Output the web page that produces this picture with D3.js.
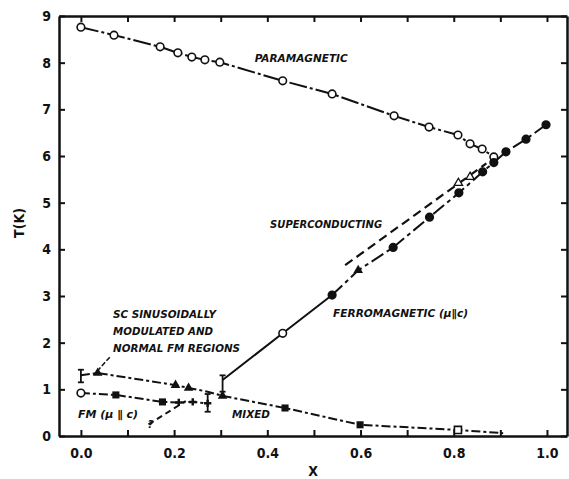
<!DOCTYPE html>
<html>
<head>
<meta charset="utf-8">
<script src="https://cdn.jsdelivr.net/npm/d3@7"></script>
<style>
  body { margin: 0; background: #fff; }
  text { font-family: "DejaVu Sans Condensed", "DejaVu Sans", sans-serif; font-weight: bold; fill: #111; }
  .lbl { font-style: italic; font-size: 10.5px; }
</style>
</head>
<body>
<div id="chart"></div>
<script>
// tick labels
var xTicks = [0, 0.1, 0.2, 0.3, 0.4, 0.5, 0.6, 0.7, 0.8, 0.9, 1.0];
var xTickLabels = ["0.0", "", "0.2", "", "0.4", "", "0.6", "", "0.8", "", "1.0"];
var yTicks = [0, 1, 2, 3, 4, 5, 6, 7, 8, 9];

// paramagnetic boundary (open circles)
var paraX = [0.0, 0.071, 0.17, 0.208, 0.238, 0.266, 0.298, 0.433, 0.539, 0.672, 0.747, 0.809, 0.835, 0.861, 0.886];
var paraT = [8.76, 8.59, 8.34, 8.21, 8.12, 8.06, 8.01, 7.61, 7.33, 6.86, 6.62, 6.45, 6.26, 6.15, 5.98];

// ferromagnetic boundary
var ferroX = [0.304, 0.433, 0.539, 0.595, 0.67, 0.748, 0.811, 0.862, 0.886, 0.912, 0.955, 0.998];
var ferroT = [1.2, 2.2, 3.02, 3.55, 4.04, 4.69, 5.21, 5.66, 5.86, 6.09, 6.36, 6.67];
var ferroSym = ["none", "open", "filled", "tri", "filled", "filled", "filled", "filled", "filled", "filled", "filled", "filled"];

// superconducting boundary (dashed)
var scX = [0.567, 0.87];
var scT = [3.66, 5.84];
var scTriX = [0.81, 0.835];
var scTriT = [5.42, 5.55];

// low temperature: SC onset (dash-dot, triangles / squares)
var lowUpX = [0.0, 0.036, 0.203, 0.231, 0.272, 0.304, 0.438, 0.599, 0.809, 0.906];
var lowUpT = [1.3, 1.35, 1.09, 1.03, 0.95, 0.86, 0.6, 0.24, 0.13, 0.06];
var lowUpSym = ["none", "tri", "tri", "tri", "none", "tri", "square", "square", "opensq", "none"];

// low temperature: FM (mu || c)
var fmX = [0.0, 0.075, 0.175, 0.21, 0.24, 0.272];
var fmT = [0.92, 0.88, 0.73, 0.72, 0.73, 0.7];
var fmSym = ["open", "square", "square", "cross", "cross", "cross"];

// error bars
var errX = [0.0, 0.272, 0.304];
var errLo = [1.15, 0.52, 0.95];
var errHi = [1.42, 0.9, 1.3];

// dashed "?" line and leader line
var qX = [0.145, 0.225];
var qT = [0.25, 0.75];
var leadX = [0.062, 0.028];
var leadT = [1.69, 1.31];

var labels = [
  {t: "PARAMAGNETIC", x: 0.373, y: 8.01, w: 93},
  {t: "SUPERCONDUCTING", x: 0.406, y: 4.46, w: 112},
  {t: "FERROMAGNETIC (\u03bc\u2225c)", x: 0.541, y: 2.55, w: 135},
  {t: "SC SINUSOIDALLY", x: 0.069, y: 2.53, w: 103},
  {t: "MODULATED AND", x: 0.069, y: 2.17, w: 100},
  {t: "NORMAL FM REGIONS", x: 0.069, y: 1.8, w: 127},
  {t: "FM (\u03bc \u2225 c)", x: -0.006, y: 0.39, w: 60},
  {t: "MIXED", x: 0.324, y: 0.39, w: 38},
  {t: "?", x: 0.143, y: 0.17, w: 6}
];

var W = 569, H = 479;
var svg = d3.select("#chart").append("svg")
  .attr("width", W).attr("height", H);

var x = d3.scaleLinear().domain([-0.047, 1.043]).range([59, 567]);
var y = d3.scaleLinear().domain([0, 9]).range([436, 16]);

// frame + inward ticks
var frame = svg.append("g");
frame.append("g").attr("transform", "translate(0,436)")
  .call(d3.axisBottom(x).tickValues(xTicks).tickSize(-6).tickSizeOuter(0).tickPadding(12)
    .tickFormat(function(d, i) { return xTickLabels[i]; }));
frame.append("g").attr("transform", "translate(0,16)")
  .call(d3.axisTop(x).tickValues(xTicks).tickSize(-6).tickSizeOuter(0).tickFormat(""));
frame.append("g").attr("transform", "translate(59,0)")
  .call(d3.axisLeft(y).tickValues(yTicks).tickSize(-6).tickSizeOuter(0).tickPadding(8)
    .tickFormat(d3.format("d")));
frame.append("g").attr("transform", "translate(567,0)")
  .call(d3.axisRight(y).tickValues(yTicks).tickSize(-6).tickSizeOuter(0).tickFormat(""));
frame.selectAll(".domain").attr("stroke", "#111").attr("stroke-width", 2.5);
frame.selectAll(".tick line").attr("stroke", "#111").attr("stroke-width", 2);
frame.selectAll(".tick text").style("font-size", "14px").style("font-weight", "bold");

var line = d3.line().x(function(d) { return x(d[0]); }).y(function(d) { return y(d[1]); });
function pairs(a, b) { return a.map(function(v, i) { return [v, b[i]]; }); }

function drawLine(xs, ts, dash, sw) {
  svg.append("path")
    .attr("d", line(pairs(xs, ts)))
    .attr("fill", "none")
    .attr("stroke", "#111")
    .attr("stroke-width", sw || 2)
    .attr("stroke-dasharray", dash);
}

drawLine(paraX, paraT, "18,3,3,3");
drawLine(ferroX.slice(0, 3), ferroT.slice(0, 3), null);
drawLine(ferroX.slice(2), ferroT.slice(2), "14,4,4,4");
drawLine(scX, scT, "9,5", 2.2);
drawLine(lowUpX, lowUpT, "9,3,3,3");
drawLine(fmX, fmT, "9,3,3,3");
drawLine(qX, qT, "6,4");
drawLine(leadX, leadT, "5,2", 1.5);

// error bars
errX.forEach(function(v, i) {
  var g = svg.append("g").attr("stroke", "#111").attr("stroke-width", 1.8);
  g.append("line").attr("x1", x(v)).attr("x2", x(v)).attr("y1", y(errLo[i])).attr("y2", y(errHi[i]));
  [errLo[i], errHi[i]].forEach(function(t) {
    g.append("line").attr("x1", x(v) - 3).attr("x2", x(v) + 3).attr("y1", y(t)).attr("y2", y(t));
  });
});

// markers
function drawMarks(xs, ts, syms) {
  xs.forEach(function(v, i) {
    var s = syms ? syms[i] : "open";
    if (s === "none") return;
    var px = x(v), py = y(ts[i]);
    if (s === "open" || s === "filled") {
      svg.append("circle").attr("cx", px).attr("cy", py).attr("r", 3.8)
        .attr("fill", s === "filled" ? "#111" : "#fff").attr("stroke", "#111").attr("stroke-width", 1.6);
    } else if (s === "tri") {
      svg.append("path").attr("transform", "translate(" + px + "," + py + ")")
        .attr("d", d3.symbol(d3.symbolTriangle, 40)()).attr("fill", "#111");
    } else if (s === "opentri") {
      svg.append("path").attr("transform", "translate(" + px + "," + py + ")")
        .attr("d", d3.symbol(d3.symbolTriangle, 30)()).attr("fill", "#fff").attr("stroke", "#111").attr("stroke-width", 1.3);
    } else if (s === "square") {
      svg.append("path").attr("transform", "translate(" + px + "," + py + ")")
        .attr("d", d3.symbol(d3.symbolSquare, 50)()).attr("fill", "#111");
    } else if (s === "opensq") {
      svg.append("path").attr("transform", "translate(" + px + "," + py + ")")
        .attr("d", d3.symbol(d3.symbolSquare, 50)()).attr("fill", "#fff").attr("stroke", "#111").attr("stroke-width", 1.6);
    } else if (s === "cross") {
      svg.append("path").attr("transform", "translate(" + px + "," + py + ")")
        .attr("d", d3.symbol(d3.symbolCross, 30)()).attr("fill", "#111");
    }
  });
}

drawMarks(paraX, paraT, null);
drawMarks(ferroX, ferroT, ferroSym);
drawMarks(scTriX, scTriT, ["opentri", "opentri"]);
drawMarks(lowUpX, lowUpT, lowUpSym);
drawMarks(fmX, fmT, fmSym);

// labels
labels.forEach(function(l) {
  svg.append("text").attr("class", "lbl")
    .attr("x", x(l.x)).attr("y", y(l.y))
    .attr("textLength", l.w).attr("lengthAdjust", "spacingAndGlyphs")
    .text(l.t);
});

svg.append("text")
  .attr("transform", "translate(24,223) rotate(-90)")
  .attr("text-anchor", "middle")
  .style("font-size", "14px")
  .text("T(K)");

svg.append("text")
  .attr("x", 313).attr("y", 476)
  .attr("text-anchor", "middle")
  .style("font-size", "14px")
  .text("X");
</script>
</body>
</html>
